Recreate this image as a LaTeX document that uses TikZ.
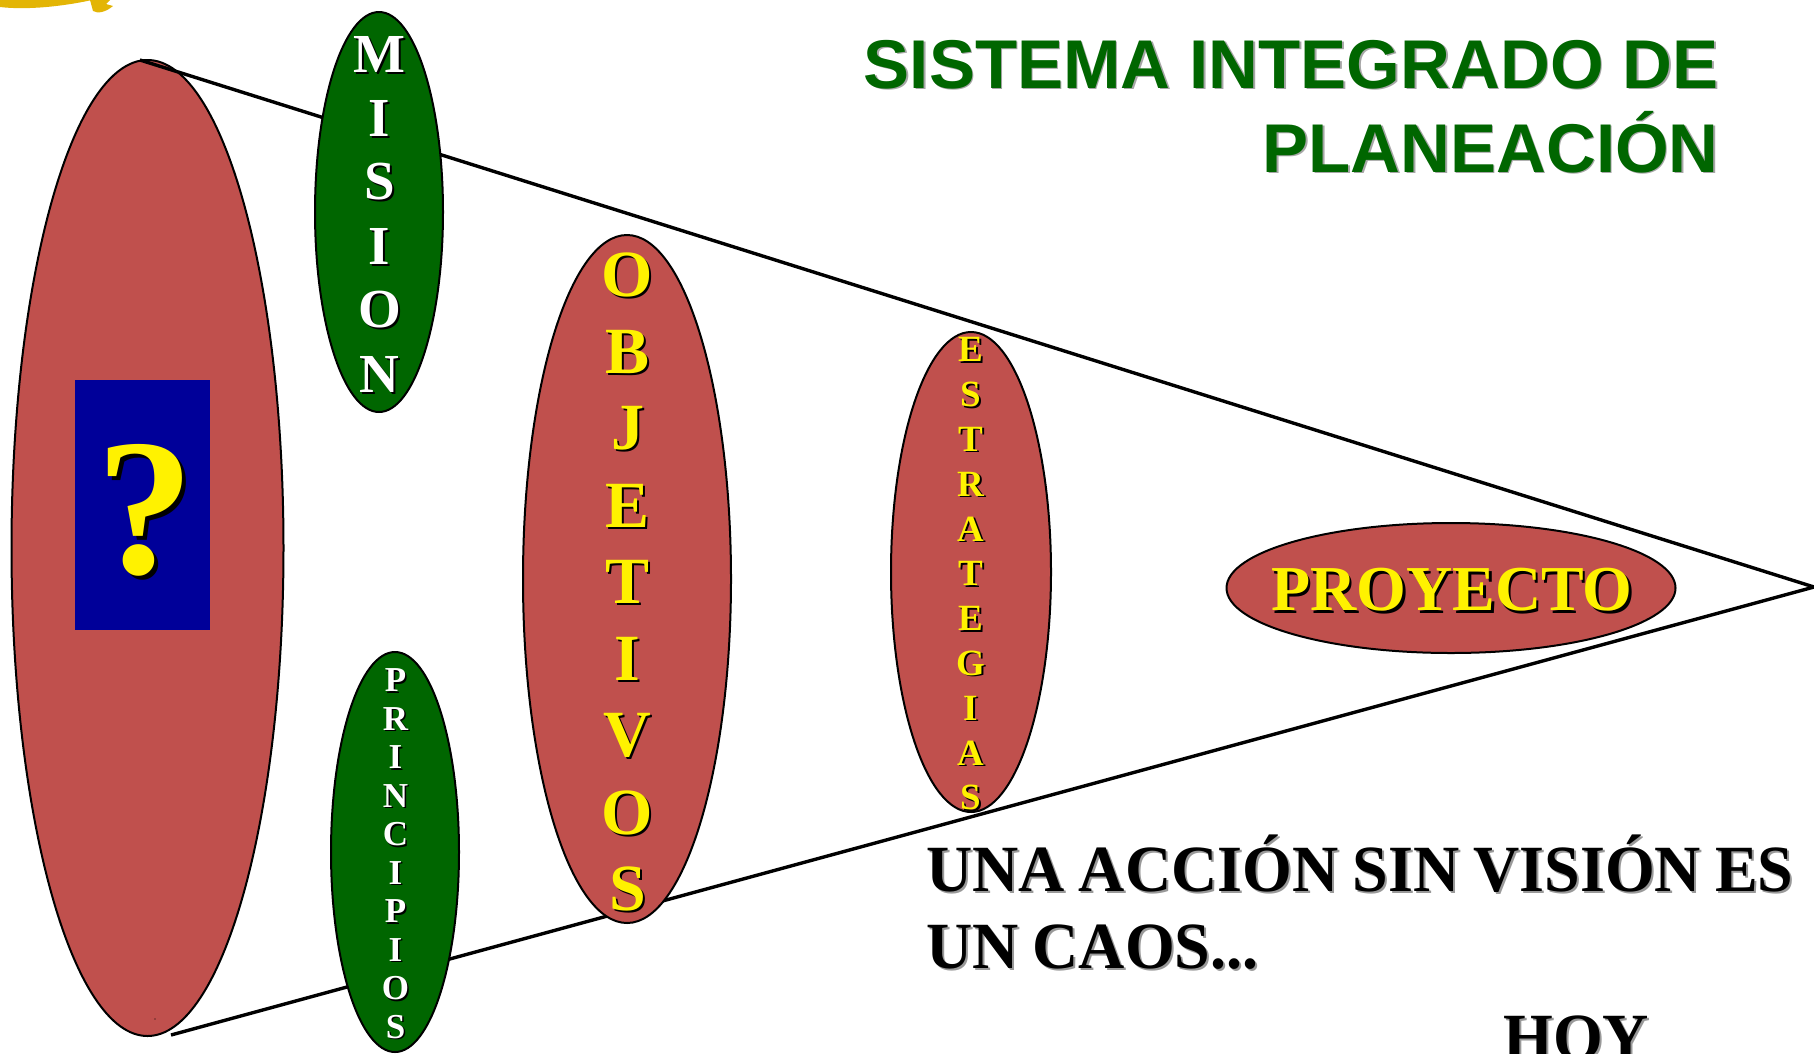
\documentclass[tikz,border=0pt]{standalone}
\usepackage{fontspec}
\setmainfont{Liberation Serif}
\setsansfont{Liberation Sans}
\newfontfamily\frasefont[FakeStretch=0.97,WordSpace=0.88]{Liberation Serif}
\usetikzlibrary{shapes.geometric}
\definecolor{rojizo}{HTML}{C0504D}
\definecolor{verde}{HTML}{006600}
\definecolor{azul}{HTML}{000099}
\definecolor{oro}{HTML}{E3B505}
\newcommand{\sombra}[3]{\leavevmode\rlap{\kern#3\raisebox{-#3}{\textcolor{#2}{#1}}}#1}
\tikzset{
  disco/.style={ellipse,draw=black,line width=2pt,inner sep=0pt},
  cono/.style={line width=3.4pt,line join=miter},
  letra/.style={inner sep=0pt,font=\fontsize{#1}{#1}\selectfont\bfseries},
  titulo/.style={inner sep=0pt,anchor=base east,text=verde,font=\fontsize{69}{69}\selectfont\sffamily\bfseries},
  frase/.style={inner sep=0pt,anchor=base west,font=\fontsize{66}{78}\selectfont\frasefont\bfseries},
}
\begin{document}
\begin{tikzpicture}[x=1pt,y=-1pt]
  \useasboundingbox (0,0) rectangle (1814,1053);
  % sello cortado por el borde
  \path[fill=oro] (0,0) -- (92,0) .. controls (60,7) and (25,10) .. (0,7) -- cycle;
  \path[fill=oro] (90,0) -- (110,0) -- (106,4) -- (113,6) .. controls (106,12) and (98,14) .. (93,11) -- cycle;
  % disco mayor y cono
  \node[disco,fill=rojizo,minimum width=272pt,minimum height=976pt] (vision) at (147.5,548) {};
  \coordinate (conoA) at (140,60);
  \coordinate (conoB) at (171,1035);
  \coordinate (punta) at (1814,587);
  \draw[cono] (conoA) -- (punta) -- (conoB);
  \node[fill=azul,minimum width=135pt,minimum height=250pt,inner sep=0pt] (caja) at (142.5,505) {};
  \node[letra=195,text=yellow] (pregunta) at (145,512) {\sombra{?}{black}{4pt}};
  % discos sobre el cono
  \node[disco,fill=verde,minimum width=128pt,minimum height=400pt] (mision) at (379,212) {};
  \node[disco,fill=verde,minimum width=128pt,minimum height=400pt] (principios) at (395,852) {};
  \node[disco,fill=rojizo,minimum width=208pt,minimum height=688pt] (objetivos) at (627,579) {};
  \node[disco,fill=rojizo,minimum width=160pt,minimum height=480pt] (estrategias) at (971,572) {};
  \node[disco,fill=rojizo,minimum width=449pt,minimum height=130pt] (proyecto) at (1451,588) {};
  \foreach \l [count=\i] in {M,I,S,I,O,N}
    \node[letra=55,text=white] (mis\i) at (379.5,{55+64*(\i-1)}) {\sombra{\l}{black}{2pt}};
  \foreach \l [count=\i] in {P,R,I,N,C,I,P,I,O,S}
    \node[letra=35,text=white] (pri\i) at (395.5,{681+38.5*(\i-1)}) {\sombra{\l}{black}{1.5pt}};
  \foreach \l [count=\i] in {O,B,J,E,T,I,V,O,S}
    \node[letra=66,text=yellow] (obj\i) at (627.5,{276+76.8*(\i-1)}) {\sombra{\l}{black}{2pt}};
  \foreach \l [count=\i] in {E,S,T,R,A,T,E,G,I,A,S}
    \node[letra=37,text=yellow] (est\i) at (971,{350.5+44.8*(\i-1)}) {\sombra{\l}{black}{1.5pt}};
  \node[letra=64,text=yellow] (proy) at (1452,591) {\sombra{PROYECTO}{black}{2.5pt}};
  % textos
  \node[titulo] (tit1) at (1719,88) {\sombra{SISTEMA INTEGRADO DE}{gray!70}{1.5pt}};
  \node[titulo] (tit2) at (1719,172) {\sombra{PLANEACIÓN}{gray!70}{1.5pt}};
  \node[frase] (una) at (926,891.5) {\sombra{UNA ACCIÓN SIN VISIÓN ES}{gray!80}{2pt}};
  \node[frase] (caos) at (926,968.5) {\sombra{UN CAOS...}{gray!80}{2pt}};
  \node[frase] (hoy) at (1503,1059) {\sombra{HOY}{gray!80}{2pt}};
  \fill (155,1019) circle (0.6);
\end{tikzpicture}
\end{document}
